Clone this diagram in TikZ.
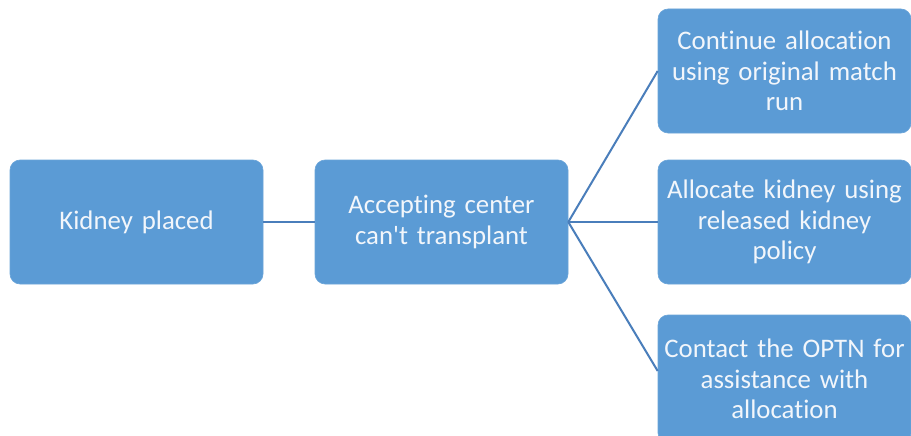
\documentclass[tikz,border=0pt]{standalone}
\usepackage{fontspec}
\setmainfont{Carlito}[Ligatures=NoCommon]
\definecolor{boxfill}{HTML}{5B9BD5}
\definecolor{linecol}{HTML}{4A7EBB}
\definecolor{txt}{HTML}{F2F6FB}
\begin{document}
\begin{tikzpicture}[x=1pt,y=-1pt,
  box/.style={fill=boxfill, draw=boxfill!90!white, line width=0.6pt, rounded corners=10pt,
    minimum width=253pt, minimum height=124pt, text width=249pt, align=center,
    inner sep=0pt, text=txt, font=\fontsize{26.8}{30.5}\selectfont},
  conn/.style={draw=linecol, line width=2pt}]
\useasboundingbox (0,0) rectangle (911,436);
\clip (0,0) rectangle (911,436);
\fill[white] (0,0) rectangle (911,436);
\node[box] (a) at (136.5,222) {Kidney placed};
\node[box] (b) at (441.5,222) {Accepting center\\can\textquotesingle t transplant};
\node[box] (c1) at (784.5,71) {Continue allocation\\using original match\\run};
\node[box] (c2) at (784.5,222) {Allocate kidney using\\released kidney\\policy};
\node[box, minimum height=128pt] (c3) at (784.5,379) {Contact the OPTN for\\assistance with\\allocation};
\draw[conn] (a.east) -- (b.west);
\draw[conn] (b.east) -- (c1.west);
\draw[conn] (b.east) -- (c2.west);
\draw[conn] (b.east) -- ([yshift=8]c3.west);
\end{tikzpicture}
\end{document}
